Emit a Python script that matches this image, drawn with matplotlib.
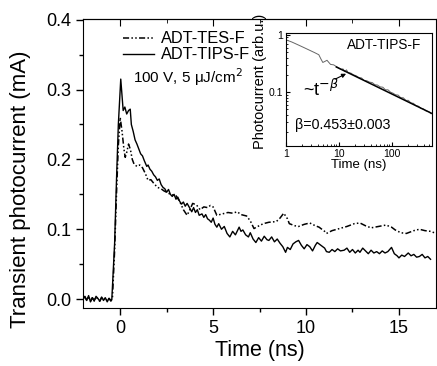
import matplotlib
matplotlib.use('Agg')
import matplotlib.pyplot as plt
from matplotlib.ticker import MultipleLocator, NullFormatter

plt.rcParams['font.family'] = ['Liberation Sans', 'DejaVu Sans']

# ADT-TES-F (dash-dot line)
tes_t = [-2.0, -1.9, -1.8, -1.7, -1.6, -1.5, -1.4, -1.3, -1.2, -1.1, -1.0, -0.9, -0.8, -0.7,
         -0.6, -0.5, -0.42, -0.3, -0.2, -0.1, 0.0, 0.1, 0.2, 0.27, 0.35, 0.45, 0.55, 0.65,
         0.75, 0.9, 1.05, 1.2, 1.35, 1.5, 1.65, 1.8, 2.0, 2.2, 2.35, 2.5, 2.7, 2.85, 3.0,
         3.2, 3.4, 3.6, 3.75, 3.9, 4.1, 4.3, 4.5, 4.7, 4.85, 5.0, 5.2, 5.5, 5.8, 6.05, 6.3,
         6.5, 6.8, 7.0, 7.2, 7.4, 7.7, 8.0, 8.4, 8.6, 8.8, 9.0, 9.1, 9.4, 9.6, 9.9, 10.2,
         10.5, 10.7, 11.0, 11.1, 11.4, 11.8, 12.2, 12.6, 12.9, 13.2, 13.5, 13.9, 14.3, 14.6,
         14.8, 15.1, 15.4, 15.8, 16.1, 16.4, 16.7, 17.0]
tes_i = [0.001, 0.003, -0.002, 0.004, -0.003, 0.002, -0.002, 0.003, 0.0, -0.003, 0.002, -0.001,
         0.002, -0.003, 0.001, -0.002, 0.0, 0.07, 0.15, 0.22, 0.26, 0.24, 0.215, 0.203, 0.21,
         0.222, 0.214, 0.2, 0.193, 0.19, 0.192, 0.188, 0.18, 0.17, 0.171, 0.166, 0.16, 0.158,
         0.155, 0.153, 0.15, 0.149, 0.148, 0.14, 0.128, 0.12, 0.128, 0.137, 0.135, 0.128,
         0.132, 0.131, 0.134, 0.132, 0.12, 0.122, 0.124, 0.123, 0.125, 0.121, 0.119, 0.112,
         0.101, 0.104, 0.108, 0.11, 0.111, 0.116, 0.123, 0.115, 0.108, 0.105, 0.104, 0.107,
         0.109, 0.105, 0.103, 0.097, 0.094, 0.098, 0.101, 0.104, 0.108, 0.109, 0.105, 0.102,
         0.104, 0.106, 0.103, 0.099, 0.095, 0.094, 0.098, 0.1, 0.098, 0.097, 0.094]

# ADT-TIPS-F (solid line)
tips_t = [-2.0, -1.9, -1.8, -1.7, -1.6, -1.5, -1.4, -1.3, -1.2, -1.1, -1.0, -0.9, -0.8, -0.7,
          -0.6, -0.5, -0.45, -0.3, -0.2, -0.1, 0.03, 0.1, 0.16, 0.25, 0.35, 0.45, 0.54, 0.6,
          0.7, 0.8, 0.9, 1.0, 1.1, 1.2, 1.3, 1.43, 1.5, 1.6, 1.7, 1.8, 1.9, 2.0, 2.1, 2.2,
          2.3, 2.4, 2.5, 2.6, 2.7, 2.8, 2.9, 3.0, 3.1, 3.2, 3.3, 3.4, 3.5, 3.6, 3.75, 3.85,
          3.95, 4.05, 4.15, 4.25, 4.4, 4.5, 4.6, 4.7, 4.8, 4.9, 5.0, 5.1, 5.2, 5.3, 5.45,
          5.6, 5.75, 5.9, 6.05, 6.2, 6.4, 6.5, 6.6, 6.75, 6.9, 7.0, 7.15, 7.3, 7.45, 7.6,
          7.75, 7.9, 8.0, 8.15, 8.3, 8.45, 8.6, 8.75, 8.9, 9.0, 9.15, 9.3, 9.45, 9.6, 9.75,
          9.9, 10.05, 10.2, 10.35, 10.5, 10.6, 10.75, 10.9, 11.0, 11.1, 11.25, 11.4, 11.55,
          11.7, 11.85, 12.05, 12.2, 12.35, 12.5, 12.65, 12.8, 12.9, 13.05, 13.2, 13.35, 13.5,
          13.65, 13.8, 13.95, 14.1, 14.25, 14.4, 14.6, 14.75, 14.9, 15.0, 15.15, 15.3, 15.5,
          15.65, 15.8, 15.95, 16.1, 16.25, 16.4, 16.55, 16.7]
tips_i = [0.0, 0.004, -0.002, 0.005, -0.004, 0.002, -0.003, 0.004, 0.001, -0.003, 0.003, -0.002,
          0.002, -0.004, 0.001, -0.003, 0.0, 0.08, 0.17, 0.25, 0.315, 0.29, 0.27, 0.275, 0.265,
          0.27, 0.272, 0.25, 0.24, 0.228, 0.222, 0.215, 0.208, 0.205, 0.198, 0.19, 0.192,
          0.186, 0.183, 0.178, 0.175, 0.17, 0.172, 0.164, 0.16, 0.158, 0.153, 0.157, 0.15,
          0.147, 0.15, 0.143, 0.146, 0.14, 0.136, 0.139, 0.133, 0.137, 0.13, 0.125, 0.131,
          0.124, 0.128, 0.12, 0.122, 0.117, 0.121, 0.115, 0.113, 0.11, 0.116, 0.107, 0.103,
          0.108, 0.1, 0.104, 0.094, 0.089, 0.097, 0.092, 0.103, 0.097, 0.099, 0.092, 0.089,
          0.095, 0.086, 0.081, 0.088, 0.083, 0.09, 0.085, 0.084, 0.089, 0.082, 0.086, 0.08,
          0.075, 0.067, 0.074, 0.071, 0.079, 0.082, 0.084, 0.077, 0.072, 0.078, 0.075, 0.069,
          0.077, 0.081, 0.078, 0.075, 0.073, 0.068, 0.067, 0.071, 0.068, 0.072, 0.069, 0.07,
          0.073, 0.067, 0.071, 0.066, 0.07, 0.067, 0.073, 0.069, 0.065, 0.07, 0.066, 0.068,
          0.065, 0.069, 0.066, 0.068, 0.074, 0.065, 0.062, 0.059, 0.063, 0.061, 0.066, 0.062,
          0.064, 0.06, 0.061, 0.064, 0.059, 0.061, 0.057]

# inset: ADT-TIPS-F decay on log-log axes
log_t = [1.0, 1.3, 1.7, 2.2, 2.8, 3.5, 4.2, 4.6, 5.0, 5.5, 6.0, 6.5, 7.0, 8.0, 9.0, 10, 11, 12,
         13, 14, 15, 17, 19, 21, 24, 27, 30, 34, 38, 43, 48, 54, 60, 68, 76, 85, 95, 106,
         118, 132, 148, 165, 185, 206, 230, 257, 287, 320, 357, 398, 445, 497, 555]
log_i = [0.82, 0.75, 0.67, 0.6, 0.54, 0.49, 0.45, 0.38, 0.33, 0.345, 0.36, 0.33, 0.305, 0.3,
         0.28, 0.265, 0.25, 0.255, 0.23, 0.245, 0.22, 0.215, 0.2, 0.195, 0.18, 0.177, 0.16,
         0.158, 0.15, 0.147, 0.135, 0.133, 0.124, 0.122, 0.11, 0.11, 0.1, 0.096, 0.09, 0.089,
         0.08, 0.08, 0.072, 0.072, 0.065, 0.064, 0.058, 0.057, 0.052, 0.051, 0.047, 0.046, 0.042]
fit_t = [9, 560]
fit_i = [0.275, 0.043]

fig = plt.figure(figsize=(4.37, 3.66), dpi=100)
ax = fig.add_axes([0.190, 0.158, 0.808, 0.790])

ax.plot(tes_t, tes_i, color='black', lw=1.1, dashes=(4, 1.5, 1, 1.5, 1, 1.5), label='ADT-TES-F')
ax.plot(tips_t, tips_i, color='black', lw=1.0, label='ADT-TIPS-F')

ax.set_xlim(-2, 17)
ax.set_ylim(-0.013, 0.401)
ax.xaxis.set_major_locator(MultipleLocator(5))
ax.xaxis.set_minor_locator(MultipleLocator(2.5))
ax.yaxis.set_major_locator(MultipleLocator(0.1))
ax.yaxis.set_minor_locator(MultipleLocator(0.05))
ax.yaxis.set_major_formatter(plt.FormatStrFormatter('%.1f'))
ax.tick_params(which='major', length=5, width=1, labelsize=13)
ax.tick_params(which='minor', length=3, width=1)
top = ax.secondary_xaxis('top')
top.xaxis.set_major_locator(MultipleLocator(5))
top.xaxis.set_minor_locator(MultipleLocator(2.5))
top.tick_params(which='both', direction='in', labeltop=False)
top.tick_params(which='major', length=5)
top.tick_params(which='minor', length=3)
ax.set_xlabel('Time (ns)', fontsize=15.5, labelpad=2)
ax.set_ylabel('Transient photocurrent (mA)', fontsize=16)
ax.yaxis.set_label_coords(-0.148, 0.41)

ax.legend(loc='upper left', bbox_to_anchor=(0.113, 0.957), frameon=False, fontsize=11.8,
          handlelength=1.9, handletextpad=0.45, labelspacing=0.05, borderpad=0,
          borderaxespad=0)
ax.text(0.142, 0.80, '100 V, 5 \u03bcJ/cm$^2$', transform=ax.transAxes, fontsize=11,
        va='center', ha='left')

ins = fig.add_axes([0.654, 0.601, 0.334, 0.309])
ins.plot(log_t, log_i, color='#666666', lw=0.7)
ins.plot(fit_t, fit_i, color='black', lw=1.1)
ins.set_xscale('log')
ins.set_yscale('log')
ins.set_xlim(1, 570)
ins.set_ylim(0.0115, 1.08)
ins.tick_params(which='both', direction='in', labelsize=7.5, pad=2)
ins.tick_params(which='major', length=3)
ins.tick_params(which='minor', length=1.5)
ins.set_xticks([1, 10, 100])
ins.set_xticklabels(['1', '10', '100'])
ins.set_yticks([0.1, 1])
ins.set_yticklabels(['0.1', '1'])
ins.yaxis.set_minor_formatter(NullFormatter())
ins.xaxis.set_minor_formatter(NullFormatter())
ins.set_xlabel('Time (ns)', fontsize=9.5, labelpad=0)
ins.set_ylabel('Photocurrent (arb.u.)', fontsize=10.5)
ins.yaxis.set_label_coords(-0.13, 0.57)
ins.text(0.42, 0.89, 'ADT-TIPS-F', transform=ins.transAxes, fontsize=9.8, va='center')
ins.text(0.06, 0.19, '\u03b2=0.453\u00b10.003', transform=ins.transAxes, fontsize=10.3,
         va='center')
ins.text(0.12, 0.50, '~t$^{-\u03b2}$', transform=ins.transAxes, fontsize=13, va='center')
ins.annotate('', xy=(0.43, 0.65), xytext=(0.32, 0.58), xycoords='axes fraction',
             arrowprops=dict(arrowstyle='-|>', color='black', lw=0.8, mutation_scale=6))

fig.savefig('out.png', dpi=100)
